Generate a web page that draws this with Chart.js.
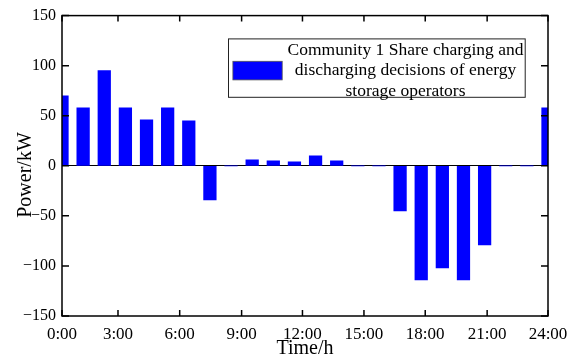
<!DOCTYPE html>
<html lang="en">
<head>
  <meta charset="UTF-8" />
  <title>Community 1 storage decisions</title>
  <script src="https://cdn.jsdelivr.net/npm/chart.js"></script>
  <style>
    body {
      margin: 0;
      background: #ffffff;
    }
    #wrap {
      width: 570px;
      height: 361px;
    }
  </style>
</head>
<body>
  <div id="wrap"><canvas id="powerChart" width="570" height="361"></canvas></div>
  <script>
    // hour slots 1..24 and the shared storage power in each (kW)
    const hourSlots = [1, 2, 3, 4, 5, 6, 7, 8, 9, 10, 11, 12, 13, 14, 15, 16, 17, 18, 19, 20, 21, 22, 23, 24];
    const power = [70, 58, 95, 58, 46, 58, 45, -34, 0, 6, 5, 4, 10, 5, 0, 0, -45, -114, -102, -114, -79, 0, 0, 58];

    const xTickPos = [1, 3.65, 6.57, 9.5, 12.38, 15.29, 18.19, 21.12, 24];
    const xTickLabels = ["0:00", "3:00", "6:00", "9:00", "12:00", "15:00", "18:00", "21:00", "24:00"];
    const yTicks = [-150, -100, -50, 0, 50, 100, 150];

    const legendLines = [
      "Community 1 Share charging and",
      "discharging decisions of energy",
      "storage operators"
    ];

    const serif = '"Liberation Serif", "Times New Roman", serif';
    const barColor = "#0000ff";

    // box, inward ticks, legend and y title (matlab look)
    const framePlugin = {
      id: "frame",
      afterDraw(chart) {
        const c = chart.ctx;
        const a = chart.chartArea;
        const xs = chart.scales.x;
        const ys = chart.scales.y;
        c.save();
        c.strokeStyle = "#000";
        c.lineWidth = 1.5;
        c.strokeRect(a.left, a.top, a.right - a.left, a.bottom - a.top);

        c.beginPath();
        yTicks.forEach(v => {
          const py = ys.getPixelForValue(v);
          c.moveTo(a.left, py); c.lineTo(a.left + 7, py);
          c.moveTo(a.right, py); c.lineTo(a.right - 7, py);
        });
        xTickPos.forEach(v => {
          const px = xs.getPixelForValue(v);
          c.moveTo(px, a.bottom); c.lineTo(px, a.bottom - 6);
          c.moveTo(px, a.top); c.lineTo(px, a.top + 6);
        });
        c.stroke();

        // legend
        const lx = a.right - 319.5, ly = a.top + 23.3, lw = 296.7, lh = 58.4;
        c.fillStyle = "#fff";
        c.fillRect(lx, ly, lw, lh);
        c.lineWidth = 1;
        c.strokeStyle = "#222";
        c.strokeRect(lx, ly, lw, lh);
        c.fillStyle = barColor;
        c.fillRect(lx + 4.4, ly + 22.4, 49.3, 18.6);
        c.strokeStyle = "#555";
        c.lineWidth = 0.8;
        c.strokeRect(lx + 4.4, ly + 22.4, 49.3, 18.6);
        c.fillStyle = "#000";
        c.font = "17.5px " + serif;
        c.textAlign = "center";
        c.textBaseline = "alphabetic";
        legendLines.forEach((t, i) => {
          c.fillText(t, lx + 177, ly + 16 + i * 20.5);
        });

        // y axis title
        c.translate(26, 175);
        c.rotate(-Math.PI / 2);
        c.font = "20px " + serif;
        c.textBaseline = "middle";
        c.fillText("Power/kW", 0, 0);
        c.restore();
      }
    };

    new Chart(document.getElementById("powerChart"), {
      type: "bar",
      data: {
        datasets: [{
          label: "Community 1 Share charging and discharging decisions of energy storage operators",
          data: hourSlots.map((h, i) => ({ x: h, y: power[i] })),
          backgroundColor: barColor,
          borderWidth: 0,
          barThickness: 12.6
        }]
      },
      options: {
        responsive: false,
        animation: false,
        layout: { padding: { top: 15, right: 22, left: 0, bottom: 0 } },
        plugins: {
          legend: { display: false },
          tooltip: { enabled: false }
        },
        scales: {
          x: {
            type: "linear",
            offset: false,
            min: 1,
            max: 24,
            afterFit: s => { s.height = 45; },
            afterBuildTicks: s => { s.ticks = xTickPos.map(v => ({ value: v })); },
            grid: { display: false, offset: false },
            border: { display: false },
            ticks: {
              autoSkip: false,
              maxRotation: 0,
              padding: 0,
              color: "#000",
              font: { family: serif, size: 17 },
              callback: (v, i) => xTickLabels[i]
            },
            title: {
              display: true,
              text: "Time/h",
              color: "#000",
              font: { family: serif, size: 20 },
              padding: { top: 0, bottom: 0 }
            }
          },
          y: {
            min: -150,
            max: 150,
            afterFit: s => { s.width = 62; },
            afterBuildTicks: s => { s.ticks = yTicks.map(v => ({ value: v })); },
            grid: {
              drawTicks: false,
              lineWidth: 1,
              color: ctx => ctx.tick && ctx.tick.value === 0 ? "#000" : "rgba(0,0,0,0)"
            },
            border: { display: false },
            ticks: {
              padding: 6,
              color: "#000",
              font: { family: serif, size: 16 },
              callback: v => v < 0 ? "\u2212" + Math.abs(v) : String(v)
            }
          }
        }
      },
      plugins: [framePlugin]
    });
  </script>
</body>
</html>
